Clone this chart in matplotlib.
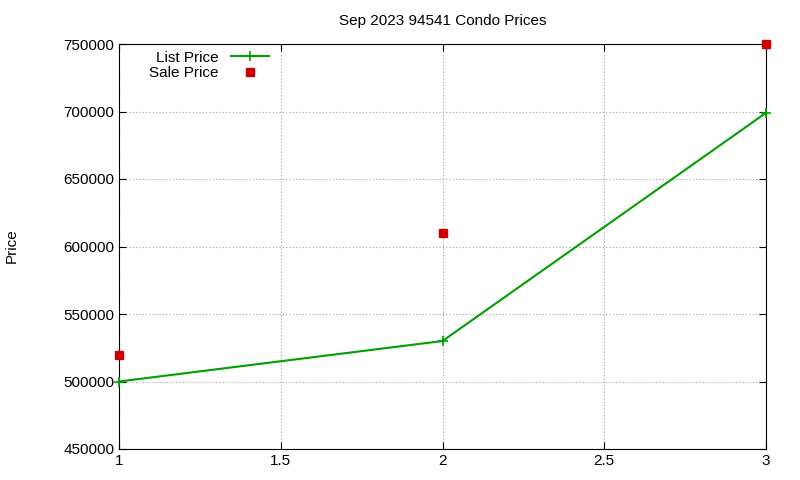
import matplotlib
matplotlib.use("Agg")
import matplotlib.pyplot as plt

x = [1, 2, 3]
list_price = [500000, 530000, 699000]
sale_price = [520000, 610000, 750000]
xticks = [1, 1.5, 2, 2.5, 3]
yticks = [450000, 500000, 550000, 600000, 650000, 700000, 750000]

plt.rcParams['font.family'] = ['Liberation Sans', 'DejaVu Sans']
fig = plt.figure(figsize=(8, 4.8), dpi=100)
ax = fig.add_axes([119/800, 1-449/480, (766-119)/800, (449-44)/480])
l1, = ax.plot(x, list_price, color='#00a000', lw=1.5, marker='+', ms=7, mew=1.2, clip_on=False, zorder=3)
l2, = ax.plot(x, sale_price, ls='none', marker='s', ms=5.5, color='#cc0000', clip_on=False, zorder=4)
ax.set_xlim(1, 3)
ax.set_ylim(450000, 750000)
ax.set_xticks(xticks)
ax.set_xticklabels(['1', '1.5', '2', '2.5', '3'])
ax.set_yticks(yticks)
ax.set_yticklabels([str(v) for v in yticks])
ax.tick_params(direction='in', top=True, right=True, labelsize=11, length=5)
ax.grid(True, color='#a0a0a0', ls=(0, (1, 2)), lw=0.8)
for s in ax.spines.values():
    s.set_linewidth(0.8)
ax.set_title('Sep 2023 94541 Condo Prices', fontsize=11, pad=14)
fig.text(12/800, 1-246/480, 'Price', rotation=90, fontsize=11, ha='center', va='center')
ax.legend([l1, l2], ['List Price', 'Sale Price'], loc='upper left', bbox_to_anchor=(0.03, 1.01),
          frameon=False, markerfirst=False, fontsize=11, handlelength=2.5,
          borderpad=0.2, labelspacing=0.1)
fig.savefig('out.png', dpi=100)
